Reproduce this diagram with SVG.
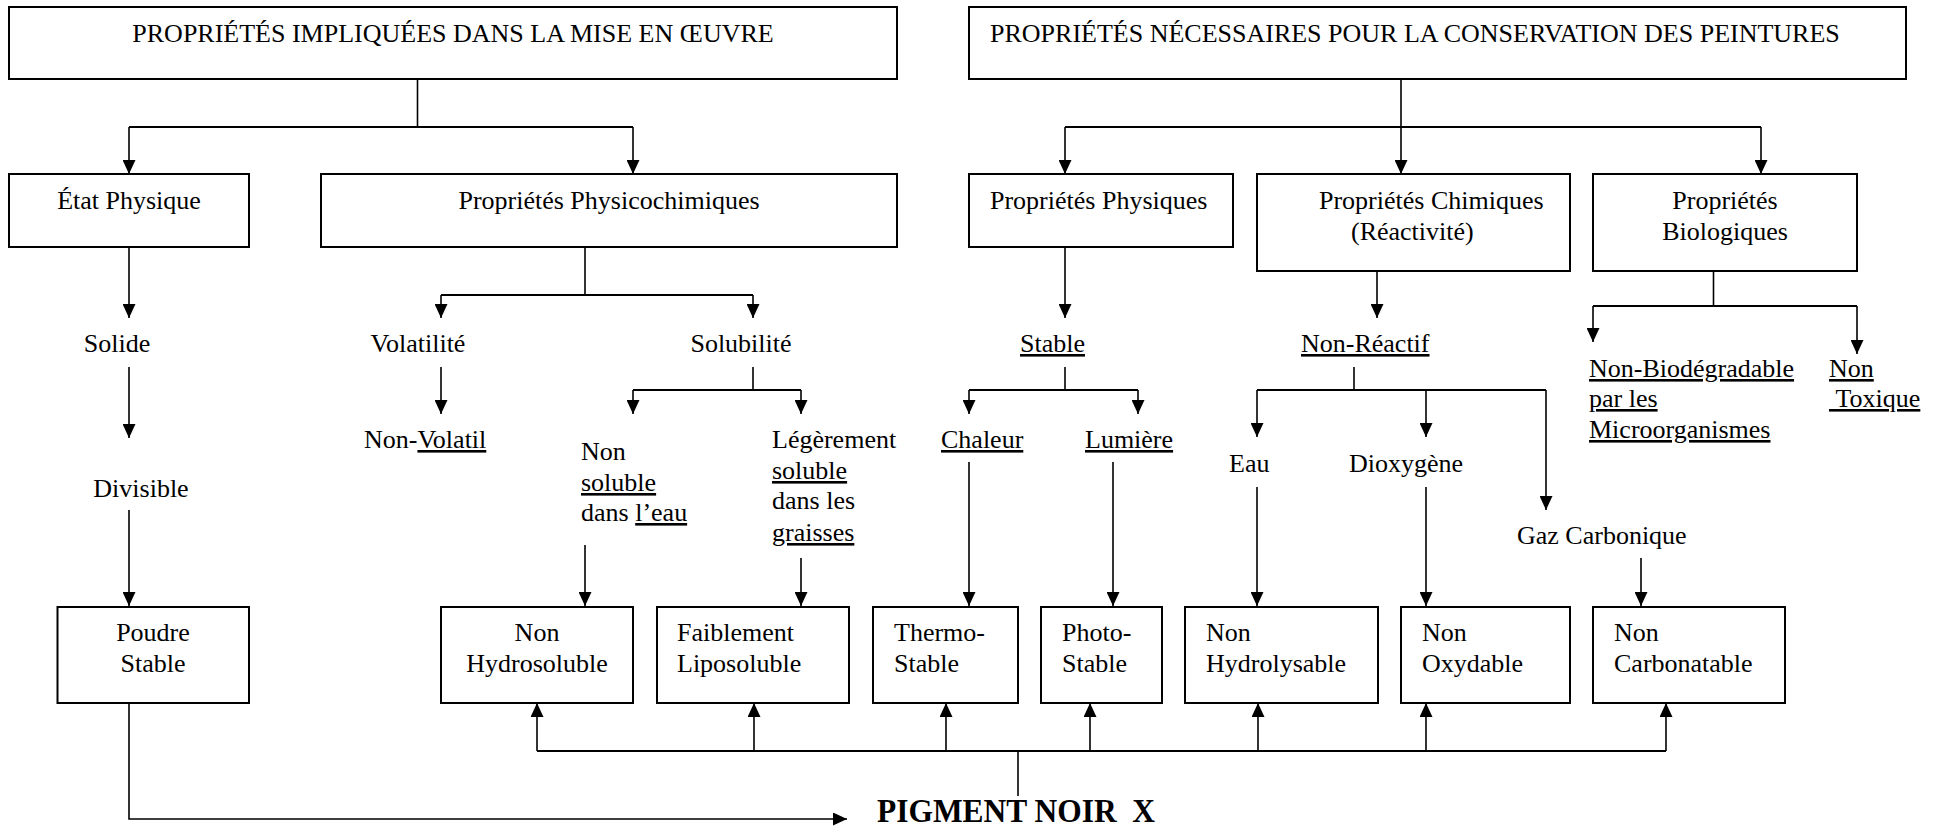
<svg xmlns="http://www.w3.org/2000/svg" width="1948" height="830" viewBox="0 0 1948 830">
  <style>
    .box { fill: #fff; stroke: #000; stroke-width: 2; }
    .t { font-family: "Liberation Serif", "Times New Roman", serif; font-size: 26px; fill: #000; }
    .m { text-anchor: middle; }
    .u { text-decoration: underline; }
    .c { fill: none; stroke: #000; stroke-width: 1.6; }
    .bar { fill: none; stroke: #000; stroke-width: 2.2; }
    .a { marker-end: url(#ah); }
    .big { font-family: "Liberation Serif", "Times New Roman", serif; font-size: 34px; font-weight: bold; fill: #000; }
  </style>
  <defs>
    <marker id="ah" markerUnits="userSpaceOnUse" markerWidth="14" markerHeight="13" refX="14" refY="6.5" orient="auto">
      <path d="M0,0 L14,6.5 L0,13 z" fill="#000"/>
    </marker>
  </defs>
  <rect width="1948" height="830" fill="#fff"/>

  <!-- connectors -->
  <g id="connectors">
    <!-- mise en oeuvre -->
    <path class="c" d="M417.5,79 V127"/>
    <path class="bar" d="M129,127 H633"/>
    <path class="c a" d="M129,127 V174"/>
    <path class="c a" d="M633,127 V174"/>
    <!-- conservation -->
    <path class="c a" d="M1401,79 V174"/>
    <path class="bar" d="M1065,127 H1761"/>
    <path class="c a" d="M1065,127 V174"/>
    <path class="c a" d="M1761,127 V174"/>
    <!-- état physique chain -->
    <path class="c a" d="M129,247 V318"/>
    <path class="c a" d="M129,367 V438"/>
    <path class="c a" d="M129,510 V606"/>
    <!-- physicochimiques -->
    <path class="c" d="M585,247 V295"/>
    <path class="bar" d="M441,295 H753"/>
    <path class="c a" d="M441,295 V318"/>
    <path class="c a" d="M753,295 V318"/>
    <path class="c a" d="M441,367 V414"/>
    <path class="c" d="M753,367 V390"/>
    <path class="bar" d="M633,390 H801"/>
    <path class="c a" d="M633,390 V414"/>
    <path class="c a" d="M801,390 V414"/>
    <path class="c a" d="M585,545 V606"/>
    <path class="c a" d="M801,558 V606"/>
    <!-- physiques -->
    <path class="c a" d="M1065,247 V318"/>
    <path class="c" d="M1065,367 V390"/>
    <path class="bar" d="M969,390 H1138"/>
    <path class="c a" d="M969,390 V414"/>
    <path class="c a" d="M1138,390 V414"/>
    <path class="c a" d="M969,462 V606"/>
    <path class="c a" d="M1113,462 V606"/>
    <!-- chimiques -->
    <path class="c a" d="M1377,271 V318"/>
    <path class="c" d="M1354,367 V390"/>
    <path class="bar" d="M1257,390 H1546"/>
    <path class="c a" d="M1257,390 V437"/>
    <path class="c a" d="M1426,390 V437"/>
    <path class="c a" d="M1546,390 V510"/>
    <path class="c a" d="M1257,487 V606"/>
    <path class="c a" d="M1426,487 V606"/>
    <path class="c a" d="M1641,558 V606"/>
    <!-- biologiques -->
    <path class="c" d="M1713.5,271 V306"/>
    <path class="bar" d="M1593,306 H1857"/>
    <path class="c a" d="M1593,306 V342"/>
    <path class="c a" d="M1857,306 V354"/>
    <!-- pigment links -->
    <path class="c a" d="M129,703 V819 H847"/>
    <path class="c" d="M1018,796 V751"/>
    <path class="bar" d="M537,751 H1666"/>
    <path class="c a" d="M537,751 V703"/>
    <path class="c a" d="M754,751 V703"/>
    <path class="c a" d="M946,751 V703"/>
    <path class="c a" d="M1090,751 V703"/>
    <path class="c a" d="M1258,751 V703"/>
    <path class="c a" d="M1426,751 V703"/>
    <path class="c a" d="M1666,751 V703"/>
  </g>

  <!-- top headings -->
  <g id="mise-en-oeuvre">
    <rect class="box" x="9" y="7" width="888" height="72"/>
    <text class="t m" x="453" y="42">PROPRIÉTÉS IMPLIQUÉES DANS LA MISE EN ŒUVRE</text>
  </g>
  <g id="conservation">
    <rect class="box" x="969" y="7" width="937" height="72"/>
    <text class="t" x="990" y="42">PROPRIÉTÉS NÉCESSAIRES POUR LA CONSERVATION DES PEINTURES</text>
  </g>

  <!-- second row -->
  <g id="etat-physique">
    <rect class="box" x="9" y="174" width="240" height="73"/>
    <text class="t m" x="129" y="209">État Physique</text>
  </g>
  <g id="physicochimiques">
    <rect class="box" x="321" y="174" width="576" height="73"/>
    <text class="t m" x="609" y="209">Propriétés Physicochimiques</text>
  </g>
  <g id="physiques">
    <rect class="box" x="969" y="174" width="264" height="73"/>
    <text class="t" x="990" y="209">Propriétés Physiques</text>
  </g>
  <g id="chimiques">
    <rect class="box" x="1257" y="174" width="313" height="97"/>
    <text class="t" x="1319" y="209">Propriétés Chimiques</text>
    <text class="t" x="1351" y="240">(Réactivité)</text>
  </g>
  <g id="biologiques">
    <rect class="box" x="1593" y="174" width="264" height="97"/>
    <text class="t m" x="1725" y="209">Propriétés</text>
    <text class="t m" x="1725" y="240">Biologiques</text>
  </g>

  <!-- intermediate labels -->
  <g id="solide"><text class="t m" x="117" y="352">Solide</text></g>
  <g id="divisible"><text class="t m" x="141" y="497">Divisible</text></g>
  <g id="volatilite"><text class="t m" x="418" y="352">Volatilité</text></g>
  <g id="solubilite"><text class="t m" x="741" y="352">Solubilité</text></g>
  <g id="non-volatil"><text class="t" x="364" y="448">Non-<tspan class="u">Volatil</tspan></text></g>
  <g id="non-soluble">
    <text class="t" x="581" y="460">Non</text>
    <text class="t u" x="581" y="491">soluble</text>
    <text class="t" x="581" y="521">dans <tspan class="u">l’eau</tspan></text>
  </g>
  <g id="legerement-soluble">
    <text class="t" x="772" y="448">Légèrement</text>
    <text class="t u" x="772" y="479">soluble</text>
    <text class="t" x="772" y="509">dans les</text>
    <text class="t u" x="772" y="541">graisses</text>
  </g>
  <g id="stable"><text class="t u" x="1020" y="352">Stable</text></g>
  <g id="chaleur"><text class="t u" x="941" y="448">Chaleur</text></g>
  <g id="lumiere"><text class="t u" x="1085" y="448">Lumière</text></g>
  <g id="non-reactif"><text class="t u" x="1301" y="352">Non-Réactif</text></g>
  <g id="eau"><text class="t" x="1229" y="472">Eau</text></g>
  <g id="dioxygene"><text class="t" x="1349" y="472">Dioxygène</text></g>
  <g id="gaz-carbonique"><text class="t" x="1517" y="544">Gaz Carbonique</text></g>
  <g id="non-biodegradable">
    <text class="t u" x="1589" y="377">Non-Biodégradable</text>
    <text class="t u" x="1589" y="407">par les</text>
    <text class="t u" x="1589" y="438">Microorganismes</text>
  </g>
  <g id="non-toxique">
    <text class="t u" x="1829" y="377">Non</text>
    <text class="t u" x="1829" y="407">&#160;Toxique</text>
  </g>

  <!-- bottom row -->
  <g id="poudre-stable">
    <rect class="box" x="57.5" y="607" width="191.5" height="96"/>
    <text class="t m" x="153" y="641">Poudre</text>
    <text class="t m" x="153" y="672">Stable</text>
  </g>
  <g id="non-hydrosoluble">
    <rect class="box" x="441" y="607" width="192" height="96"/>
    <text class="t m" x="537" y="641">Non</text>
    <text class="t m" x="537" y="672">Hydrosoluble</text>
  </g>
  <g id="faiblement-liposoluble">
    <rect class="box" x="657" y="607" width="192" height="96"/>
    <text class="t" x="677" y="641">Faiblement</text>
    <text class="t" x="677" y="672">Liposoluble</text>
  </g>
  <g id="thermo-stable">
    <rect class="box" x="873" y="607" width="145" height="96"/>
    <text class="t" x="894" y="641">Thermo-</text>
    <text class="t" x="894" y="672">Stable</text>
  </g>
  <g id="photo-stable">
    <rect class="box" x="1041" y="607" width="121" height="96"/>
    <text class="t" x="1062" y="641">Photo-</text>
    <text class="t" x="1062" y="672">Stable</text>
  </g>
  <g id="non-hydrolysable">
    <rect class="box" x="1185" y="607" width="193" height="96"/>
    <text class="t" x="1206" y="641">Non</text>
    <text class="t" x="1206" y="672">Hydrolysable</text>
  </g>
  <g id="non-oxydable">
    <rect class="box" x="1401" y="607" width="169" height="96"/>
    <text class="t" x="1422" y="641">Non</text>
    <text class="t" x="1422" y="672">Oxydable</text>
  </g>
  <g id="non-carbonatable">
    <rect class="box" x="1593" y="607" width="192" height="96"/>
    <text class="t" x="1614" y="641">Non</text>
    <text class="t" x="1614" y="672">Carbonatable</text>
  </g>

  <!-- result -->
  <g id="pigment-noir">
    <text class="big" x="877" y="822" textLength="278" lengthAdjust="spacingAndGlyphs" xml:space="preserve">PIGMENT NOIR  X</text>
  </g>
</svg>
